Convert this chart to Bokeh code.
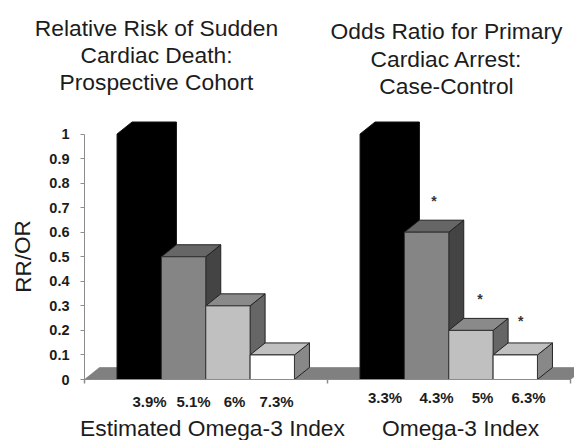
from bokeh.plotting import figure
from bokeh.embed import file_html
from bokeh.resources import INLINE
from bokeh.models import Range1d, FixedTicker, LinearAxis, Label, Segment, ColumnDataSource
from bokeh.core.properties import value

# --- data ---
group_values = [[1.0, 0.5, 0.3, 0.1], [1.0, 0.6, 0.2, 0.1]]
group_labels = [["3.9%", "5.1%", "6%", "7.3%"], ["3.3%", "4.3%", "5%", "6.3%"]]
label_pixels = [[149, 193, 234, 276], [384.5, 436, 482, 528]]
label_standoff = [7, 3]
star_bars = [1, 2, 3]
star_heights = [0.74, 0.342, 0.25]
star_nudges = [0.03, 0.037, 0.022]
y_ticks = [0, 0.1, 0.2, 0.3, 0.4, 0.5, 0.6, 0.7, 0.8, 0.9, 1]
titles = [["Relative Risk of Sudden", "Cardiac Death:", "Prospective Cohort"],
          ["Odds Ratio for Primary", "Cardiac Arrest:", "Case-Control"]]
x_titles = ["Estimated Omega-3 Index", "Omega-3 Index"]
front_colors = ["#000000", "#858585", "#c0c0c0", "#ffffff"]
top_colors = ["#000000", "#666666", "#8a8a8a", "#c0c0c0"]
side_colors = ["#000000", "#444444", "#666666", "#888888"]

# --- layout ---
W, H = 574, 440
LEFT, BASE = 84, 379
PX_X, PX_Y = 243.0, 245.5
OFFSET, BW = 0.134, 0.1825
DX, DY = 15 / PX_X, 12 / PX_Y
FONT = "Liberation Sans"
AXIS_GREY = "#8c8c8c"
TEXT = "#1c1c1c"


def px(xp):
    return (xp - LEFT) / PX_X


def py(yp):
    return (BASE - yp) / PX_Y


p = figure(width=W, height=H, output_backend="svg", toolbar_location=None,
           x_range=Range1d(px(0), px(W)), y_range=Range1d(py(H), py(0)),
           x_axis_location=None, y_axis_location=None,
           min_border_left=0, min_border_right=0, min_border_top=0,
           min_border_bottom=0, margin=(0, 0, 0, 0))
p.outline_line_color = None
p.grid.visible = False
p.background_fill_color = "white"

# y axis
ya = LinearAxis(ticker=FixedTicker(ticks=y_ticks), fixed_location=0, bounds=(0, 1),
                major_label_overrides={0: "0", 1: "1"})
ya.axis_line_color = AXIS_GREY
ya.major_tick_line_color = AXIS_GREY
ya.major_tick_in = 0
ya.major_tick_out = 4
ya.minor_tick_line_color = None
ya.major_label_text_font = FONT
ya.major_label_text_font_style = "bold"
ya.major_label_text_font_size = "14.5px"
ya.major_label_text_color = TEXT
ya.major_label_standoff = 11
p.add_layout(ya, "left")

# floor
n_groups = len(group_values)
p.patch([0, DX, n_groups + DX, n_groups], [0, DY, DY, 0],
        fill_color="#808080", line_color="#6a6a6a", line_width=0.5)

# bars
for g, vals in enumerate(group_values):
    for i, v in enumerate(vals):
        x0 = g + OFFSET + i * BW
        x1 = x0 + BW
        if i == 0:
            p.patch([x0, x0 + DX, x1 + DX, x1 + DX, x1, x0],
                    [v, v + DY, v + DY, DY, 0, 0],
                    fill_color=front_colors[i], line_color="#111111", line_width=1)
            continue
        p.patch([x1, x1 + DX, x1 + DX, x1], [0, DY, v + DY, v],
                fill_color=side_colors[i], line_color="#222222", line_width=1)
        p.patch([x0, x0 + DX, x1 + DX, x1], [v, v + DY, v + DY, v],
                fill_color=top_colors[i], line_color="#222222", line_width=1)
        p.quad(left=[x0], right=[x1], bottom=[0], top=[v],
               fill_color=front_colors[i], line_color="#333333", line_width=1)
        if g == 1 and i in star_bars:
            k = star_bars.index(i)
            p.text([x0 + BW / 2 + star_nudges[k]], [star_heights[k]], text=["*"],
                   text_font=value(FONT), text_font_style="bold", text_font_size="14px",
                   text_align="center", text_baseline="middle", text_color="#333333",
                   y_offset=3)

# percent labels, one axis for each group; the first also carries the base line
for g in range(n_groups):
    ticks = [px(v) for v in label_pixels[g]]
    xa = LinearAxis(ticker=FixedTicker(ticks=ticks), fixed_location=0, bounds=(0, n_groups),
                    major_label_overrides=dict(zip(ticks, group_labels[g])))
    xa.axis_line_color = AXIS_GREY if g == 0 else None
    xa.major_tick_line_color = None
    xa.minor_tick_line_color = None
    xa.major_label_text_font = FONT
    xa.major_label_text_font_style = "bold"
    xa.major_label_text_font_size = "15px"
    xa.major_label_text_color = TEXT
    xa.major_label_standoff = label_standoff[g]
    p.add_layout(xa, "below")

# group ticks below the base line
group_edges = list(range(n_groups + 1))
tick_len = 4 / PX_Y
p.segment(group_edges, [0] * len(group_edges), group_edges, [-tick_len] * len(group_edges),
          line_color=AXIS_GREY, line_width=1.5)


def label(text, xp, yp, size, angle=0):
    p.add_layout(Label(x=px(xp), y=py(yp), text=text, text_font=FONT, text_font_size=size,
                       text_align="center", text_baseline="middle", text_color=TEXT,
                       angle=angle))


centers = [156, 446]
line_ys = [[27, 54, 81], [30, 58, 85]]
for g in range(2):
    for t, y in zip(titles[g], line_ys[g]):
        label(t, centers[g], y, "22.8px")

label(x_titles[0], 212, 427, "22.8px")
label(x_titles[1], 460, 427, "22.8px")
label("RR/OR", 22.5, 256, "22.5px", angle=1.5708)

open("out.html", "w").write(file_html(p, INLINE))
